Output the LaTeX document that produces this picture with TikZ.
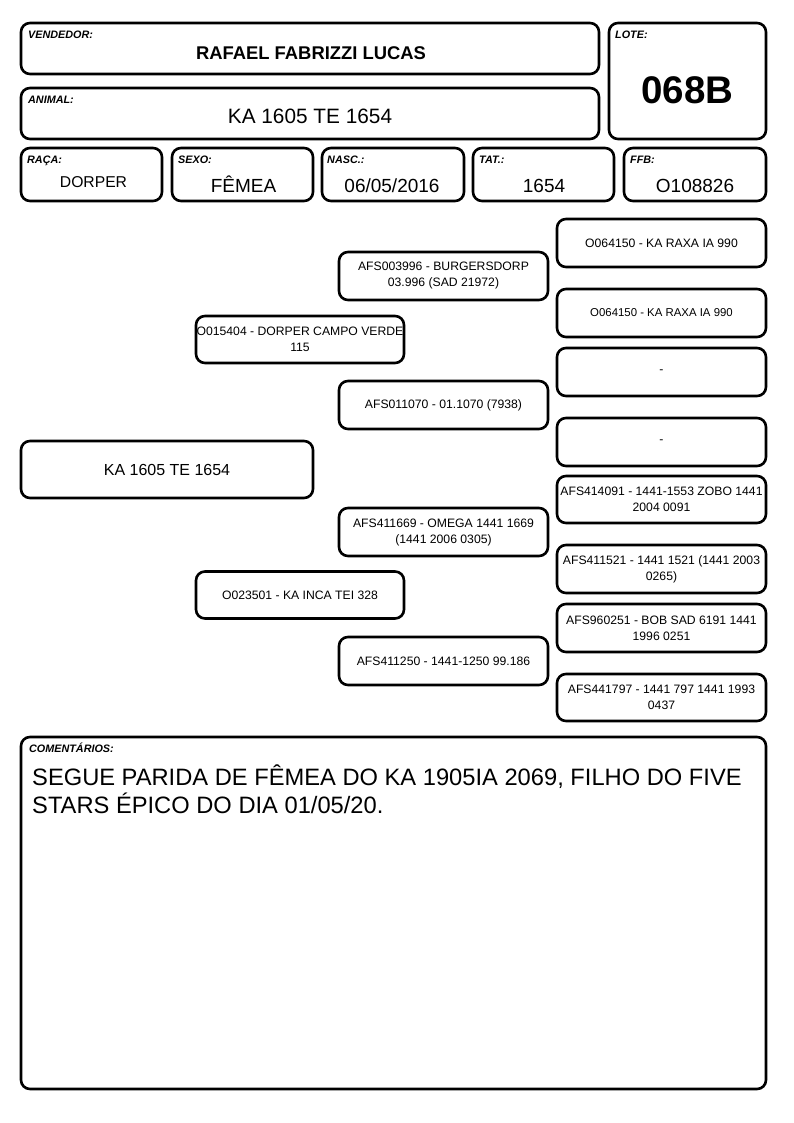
\documentclass[tikz,border=0pt]{standalone}
\usepackage{fontspec}
\setmainfont{Liberation Sans}
\usetikzlibrary{positioning}
\tikzset{>=latex}
\tikzset{
  caixa/.style={draw, rectangle, rounded corners=9pt, line width=2.6pt, inner sep=0pt, outer sep=0pt, align=center},
  rotulo/.style={anchor=base west, inner sep=0pt, font=\fontsize{10.8}{12}\selectfont\bfseries\itshape},
  valor/.style={anchor=base, inner sep=0pt, font=\fontsize{19}{22}\selectfont},
  arvore/.style={caixa, minimum width=209pt, minimum height=48pt, font=\fontsize{12.2}{16}\selectfont},
}

\begin{document}
\begin{tikzpicture}[x=1pt, y=-1pt]
  \useasboundingbox (0,0) rectangle (794,1123);
  % cabecalho
  \node[caixa, minimum width=578pt, minimum height=51pt] (vend) at (310,48.5) {};
  \node[caixa, minimum width=578pt, minimum height=51pt] (anim) at (310,113.5) {};
  \node[caixa, minimum width=157pt, minimum height=116pt] (lote) at (687.5,81) {};
  \node[rotulo] (lvend) at ([xshift=7pt, yshift=-16pt]vend.north west) {VENDEDOR:};
  \node[rotulo] (lanim) at ([xshift=7pt, yshift=-16pt]anim.north west) {ANIMAL:};
  \node[rotulo] (llote) at ([xshift=6pt, yshift=-16pt]lote.north west) {LOTE:};
  \node[valor, font=\fontsize{18.4}{22}\selectfont\bfseries] (tvend) at (311,60) {RAFAEL FABRIZZI LUCAS};
  \node[valor, font=\fontsize{20.8}{24}\selectfont] (tanim) at (310,123.5) {KA 1605 TE 1654};
  \node[valor, font=\fontsize{38.5}{42}\selectfont\bfseries] (tlote) at (687.5,104) {068B};
  % linha de dados
  \node[caixa, minimum width=141pt, minimum height=53pt] (raca) at (91.5,174.5) {};
  \node[caixa, minimum width=141pt, minimum height=53pt] (sexo) at (242.5,174.5) {};
  \node[caixa, minimum width=142pt, minimum height=53pt] (nasc) at (393,174.5) {};
  \node[caixa, minimum width=141pt, minimum height=53pt] (tat) at (543.5,174.5) {};
  \node[caixa, minimum width=142pt, minimum height=53pt] (ffb) at (695,174.5) {};
  \node[rotulo] (lraca) at ([xshift=6pt, yshift=-15.5pt]raca.north west) {RAÇA:};
  \node[rotulo] (lsexo) at ([xshift=6pt, yshift=-15.5pt]sexo.north west) {SEXO:};
  \node[rotulo] (lnasc) at ([xshift=5pt, yshift=-15.5pt]nasc.north west) {NASC.:};
  \node[rotulo] (ltat) at ([xshift=6pt, yshift=-15.5pt]tat.north west) {TAT.:};
  \node[rotulo] (lffb) at ([xshift=6pt, yshift=-15.5pt]ffb.north west) {FFB:};
  \node[valor, font=\fontsize{15.7}{18}\selectfont] (traca) at (93.5,188) {DORPER};
  \node[valor] (tsexo) at (243.5,193) {FÊMEA};
  \node[valor] (tnasc) at (392,193) {06/05/2016};
  \node[valor] (ttat) at (544,193) {1654};
  \node[valor] (tffb) at (695,193) {O108826};
  % genealogia
  \node[caixa, minimum width=292pt, minimum height=57pt, font=\fontsize{16}{19}\selectfont] (g0) at (167,469.5) {KA 1605 TE 1654};
  \node[arvore, minimum width=208pt, minimum height=47pt] (g1a) at (300,339.5) {O015404 - DORPER CAMPO VERDE\\115};
  \node[arvore, minimum width=208pt, minimum height=47pt] (g1b) at (300,595) {O023501 - KA INCA TEI 328};
  \node[arvore] (g2a) at (443.5,276) {AFS003996 - BURGERSDORP\\03.996 (SAD 21972)};
  \node[arvore] (g2b) at (443.5,405) {AFS011070 - 01.1070 (7938)};
  \node[arvore] (g2c) at (443.5,532) {AFS411669 - OMEGA 1441 1669\\(1441 2006 0305)};
  \node[arvore] (g2d) at (443.5,661) {AFS411250 - 1441-1250 99.186};
  \node[arvore] (g3a) at (661.5,243) {O064150 - KA RAXA IA 990};
  \node[arvore, font=\fontsize{11.4}{16}\selectfont] (g3b) at (661.5,313) {O064150 - KA RAXA IA 990};
  \node[arvore] (g3c) at (661.5,372) {-};
  \node[arvore] (g3d) at (661.5,442) {-};
  \node[arvore, minimum height=47pt] (g3e) at (661.5,499.5) {AFS414091 - 1441-1553 ZOBO 1441\\2004 0091};
  \node[arvore] (g3f) at (661.5,569) {AFS411521 - 1441 1521 (1441 2003\\0265)};
  \node[arvore] (g3g) at (661.5,628) {AFS960251 - BOB SAD 6191 1441\\1996 0251};
  \node[arvore, minimum height=47pt] (g3h) at (661.5,697.5) {AFS441797 - 1441 797 1441 1993\\0437};
  % comentarios
  \node[caixa, minimum width=745pt, minimum height=352pt] (com) at (393.5,913) {};
  \node[rotulo] (lcom) at ([xshift=8pt, yshift=-15pt]com.north west) {COMENTÁRIOS:};
  \node[anchor=base west, inner sep=0pt, align=left, font=\fontsize{23.7}{28}\selectfont] (tcom) at (32,813) {SEGUE PARIDA DE FÊMEA DO KA 1905IA 2069, FILHO DO FIVE\\STARS ÉPICO DO DIA 01/05/20.};
\end{tikzpicture}
\end{document}
